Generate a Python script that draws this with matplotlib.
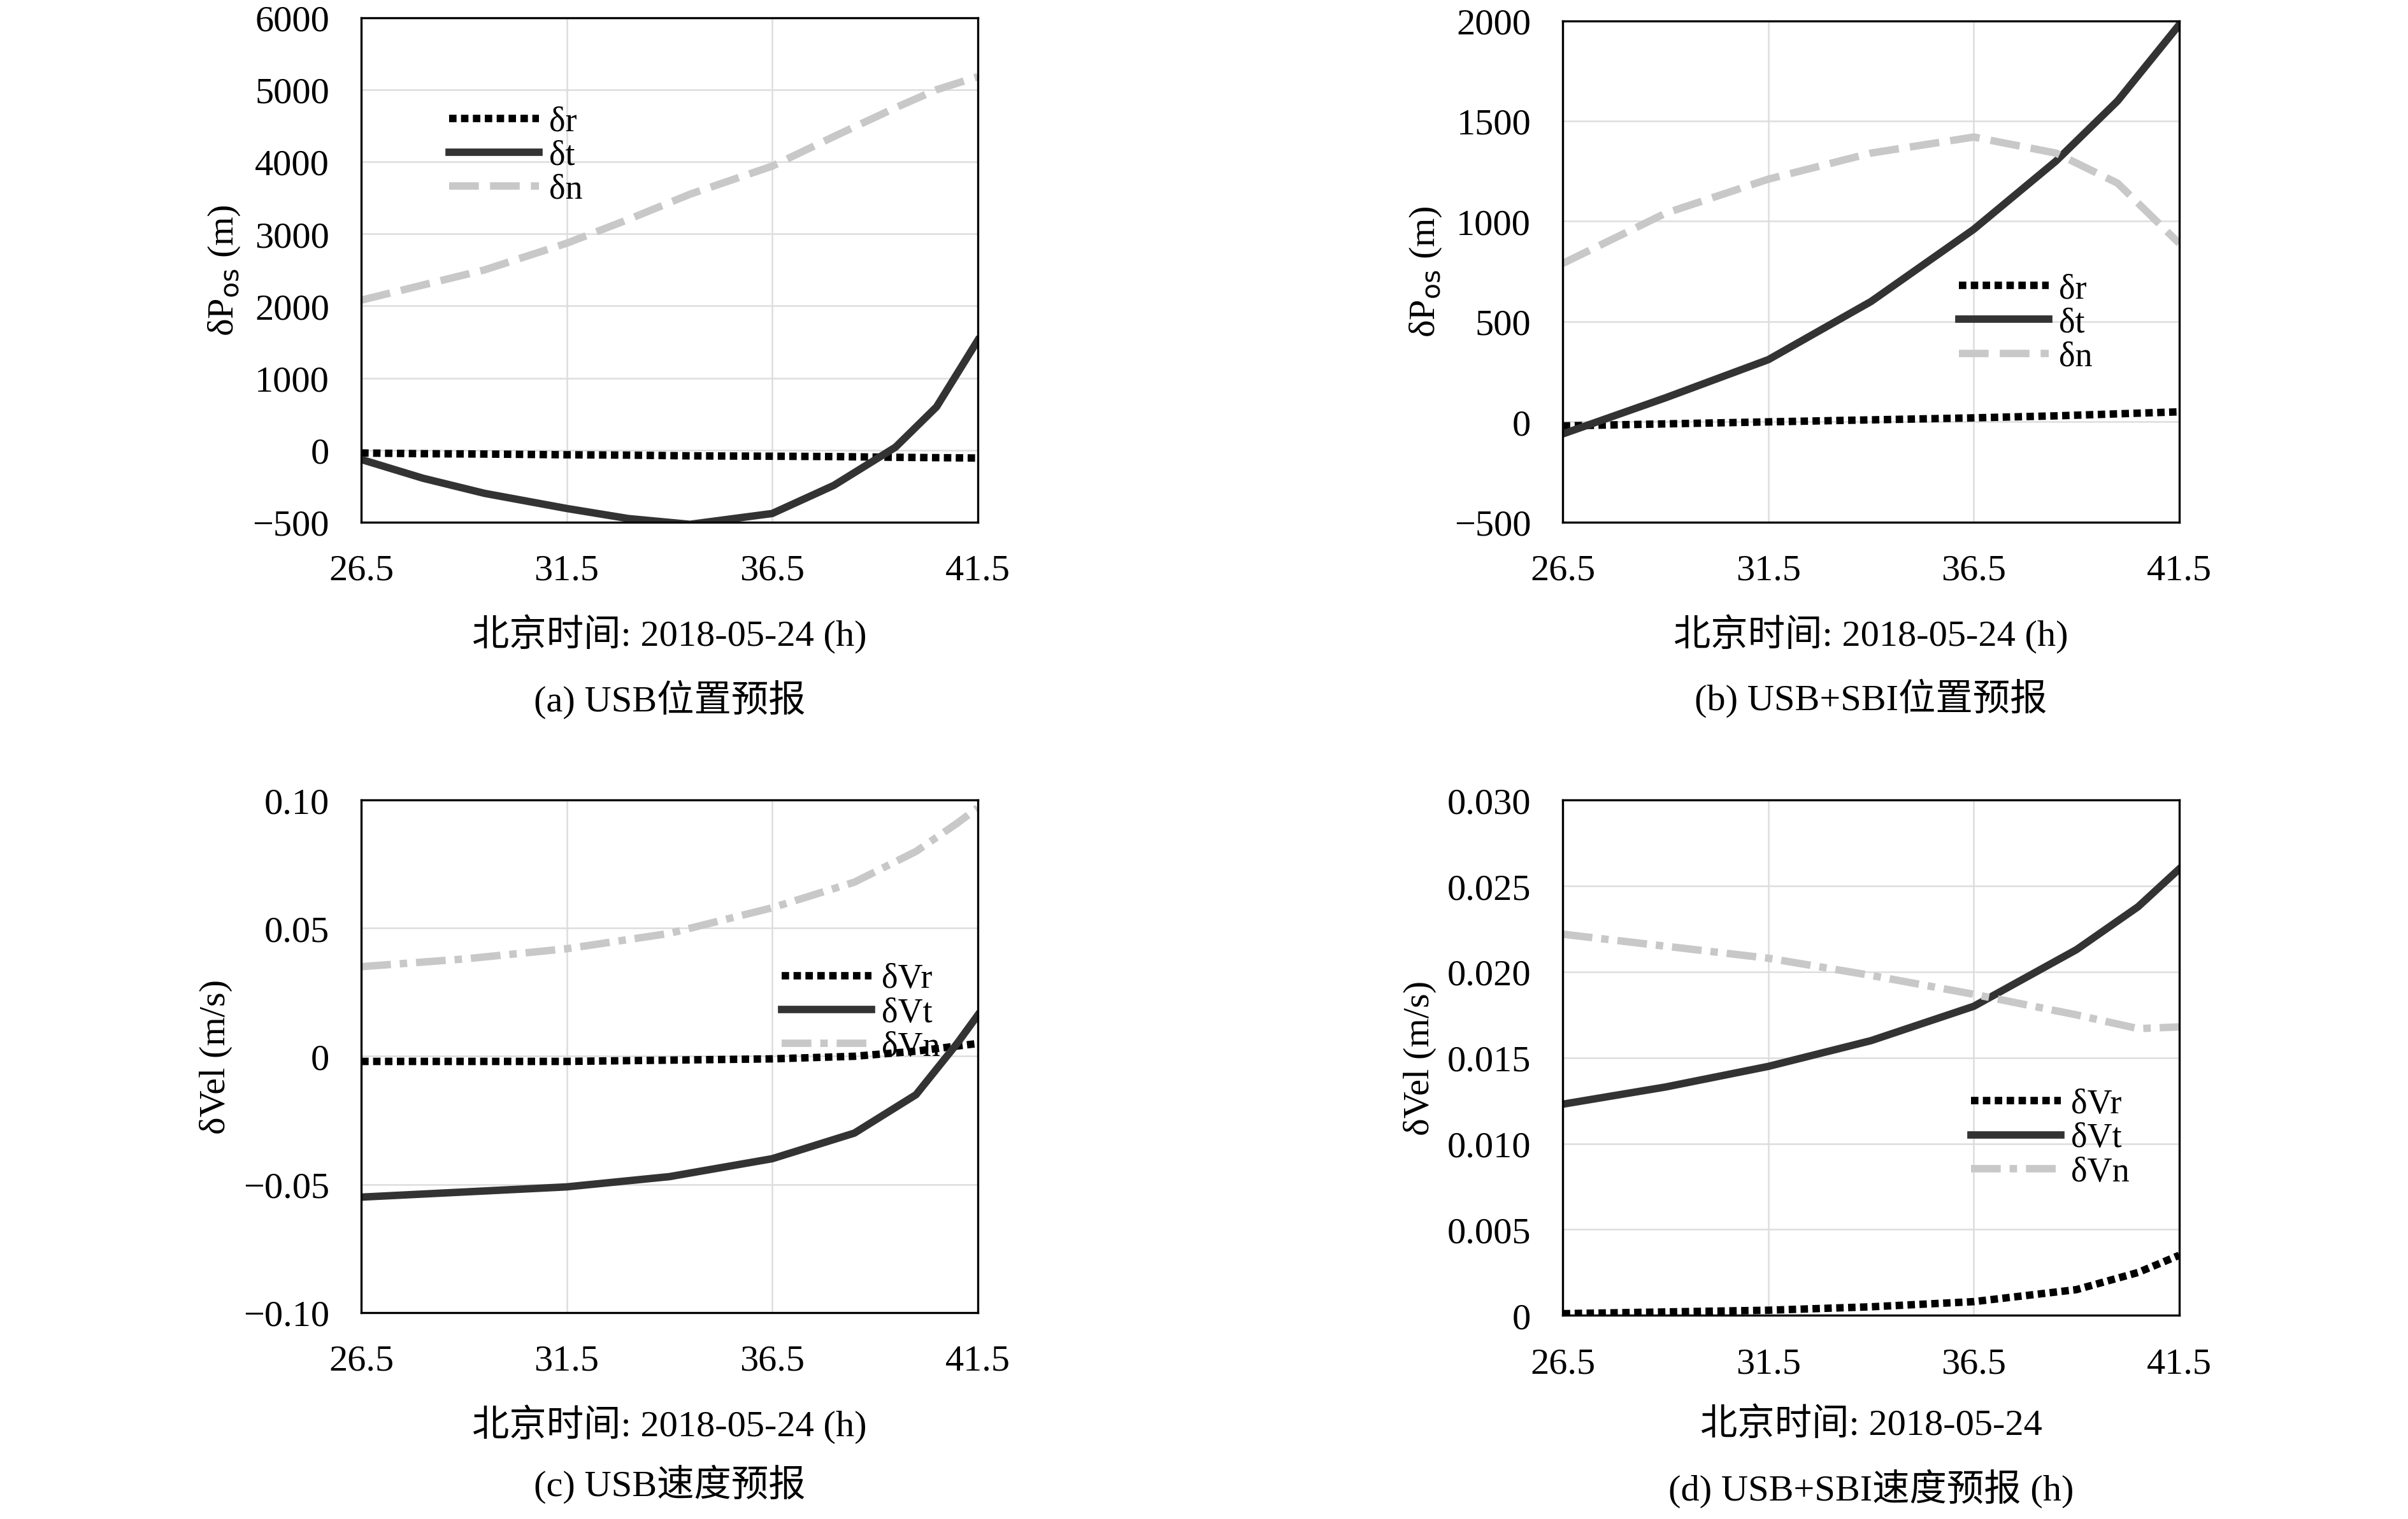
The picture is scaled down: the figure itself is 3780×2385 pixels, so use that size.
import matplotlib
matplotlib.use("Agg")
import matplotlib.pyplot as plt

plt.rcParams['font.family'] = ['Liberation Serif', 'Noto Sans CJK SC']
plt.rcParams['font.size'] = 13
plt.rcParams['axes.unicode_minus'] = True

# panel (a) position forecast, USB
a_x = [26.5, 28, 29.5, 31.5, 33, 34.5, 36.5, 38, 39.5, 40.5, 41.5]
a_r = [-40, -50, -55, -65, -70, -80, -85, -90, -100, -105, -110]
a_t = [-130, -390, -600, -810, -950, -1030, -880, -490, 40, 600, 1520]
a_n = [2080, 2290, 2500, 2870, 3200, 3550, 3940, 4350, 4750, 5000, 5180]
# panel (b) position forecast, USB+SBI
b_x = [26.5, 29, 31.5, 34, 36.5, 38.5, 40, 41.5]
b_r = [-20, -10, 0, 10, 20, 30, 40, 50]
b_t = [-60, 120, 310, 600, 960, 1300, 1600, 1980]
b_n = [790, 1040, 1210, 1340, 1420, 1340, 1190, 890]
# panel (c) velocity forecast, USB
c_x = [26.5, 29, 31.5, 34, 36.5, 38.5, 40, 41, 41.5]
c_r = [-0.002, -0.002, -0.002, -0.0015, -0.001, 0.0, 0.002, 0.004, 0.005]
c_t = [-0.055, -0.053, -0.051, -0.047, -0.040, -0.030, -0.015, 0.005, 0.016]
c_n = [0.035, 0.038, 0.042, 0.048, 0.058, 0.068, 0.080, 0.091, 0.097]
# panel (d) velocity forecast, USB+SBI
d_x = [26.5, 29, 31.5, 34, 36.5, 39, 40.5, 41.5]
d_r = [0.0001, 0.0002, 0.0003, 0.0005, 0.0008, 0.0015, 0.0025, 0.0035]
d_t = [0.0123, 0.0133, 0.0145, 0.016, 0.018, 0.0213, 0.0238, 0.026]
d_n = [0.0222, 0.0215, 0.0208, 0.0198, 0.0187, 0.0175, 0.0167, 0.0168]

xticks = [26.5, 31.5, 36.5, 41.5]
xlabel = "北京时间: 2018-05-24 (h)"

fig = plt.figure(figsize=(12.6, 7.953), dpi=300)

def panel(rect, x, r, t, n, names, nstyle, ylim, yticks, ylabels, ylabel,
          xlab, caption, legloc, capy):
    ax = fig.add_axes(rect)
    ax.plot(x, r, color="black", linestyle=(0, (1, 0.6)), linewidth=2.8, label=names[0])
    ax.plot(x, t, color="#333333", linestyle="-", linewidth=2.8, label=names[1])
    ax.plot(x, n, color="#c8c8c8", linestyle=nstyle, linewidth=2.8, label=names[2])
    ax.set_xlim(26.5, 41.5)
    ax.set_ylim(*ylim)
    ax.set_xticks(xticks)
    ax.set_xticklabels(["26.5", "31.5", "36.5", "41.5"])
    ax.set_yticks(yticks)
    ax.set_yticklabels(ylabels)
    ax.tick_params(direction="in", length=0, labelsize=14, pad=12)
    ax.grid(color="#dddddd", linewidth=0.6)
    ax.set_ylabel(ylabel, fontsize=14)
    ax.set_xlabel(xlab, fontsize=14, labelpad=10)
    ax.text(0.5, capy, caption, transform=ax.transAxes, ha="center", va="center", fontsize=14)
    ax.legend(loc=legloc, frameon=False, fontsize=13, handlelength=2.6,
              labelspacing=0.05, handletextpad=0.3)
    return ax

panel([0.150, 0.656, 0.256, 0.332], a_x, a_r, a_t, a_n, ["δr", "δt", "δn"], (0, (4, 1.5)),
      (-1000, 6000), [-1000, 0, 1000, 2000, 3000, 4000, 5000, 6000],
      ["−500", "0", "1000", "2000", "3000", "4000", "5000", "6000"],
      r"δP$_{\rm os}$ (m)", xlabel, "(a) USB位置预报", (0.12, 0.6), -0.35)
panel([0.649, 0.656, 0.256, 0.330], b_x, b_r, b_t, b_n, ["δr", "δt", "δn"], (0, (4, 1.5)),
      (-500, 2000), [-500, 0, 500, 1000, 1500, 2000],
      ["−500", "0", "500", "1000", "1500", "2000"],
      r"δP$_{\rm os}$ (m)", xlabel, "(b) USB+SBI位置预报", (0.62, 0.27), -0.35)
panel([0.150, 0.136, 0.256, 0.337], c_x, c_r, c_t, c_n, ["δVr", "δVt", "δVn"], (0, (4, 1.2, 1, 1.2)),
      (-0.1, 0.1), [-0.1, -0.05, 0, 0.05, 0.1],
      ["−0.10", "−0.05", "0", "0.05", "0.10"],
      "δVel (m/s)", xlabel, "(c) USB速度预报", (0.66, 0.46), -0.335)
panel([0.649, 0.134, 0.256, 0.339], d_x, d_r, d_t, d_n, ["δVr", "δVt", "δVn"], (0, (4, 1.2, 1, 1.2)),
      (0, 0.03), [0, 0.005, 0.01, 0.015, 0.02, 0.025, 0.03],
      ["0", "0.005", "0.010", "0.015", "0.020", "0.025", "0.030"],
      "δVel (m/s)", "北京时间: 2018-05-24", "(d) USB+SBI速度预报 (h)", (0.64, 0.22), -0.335)

fig.savefig("out.png", dpi=300)
